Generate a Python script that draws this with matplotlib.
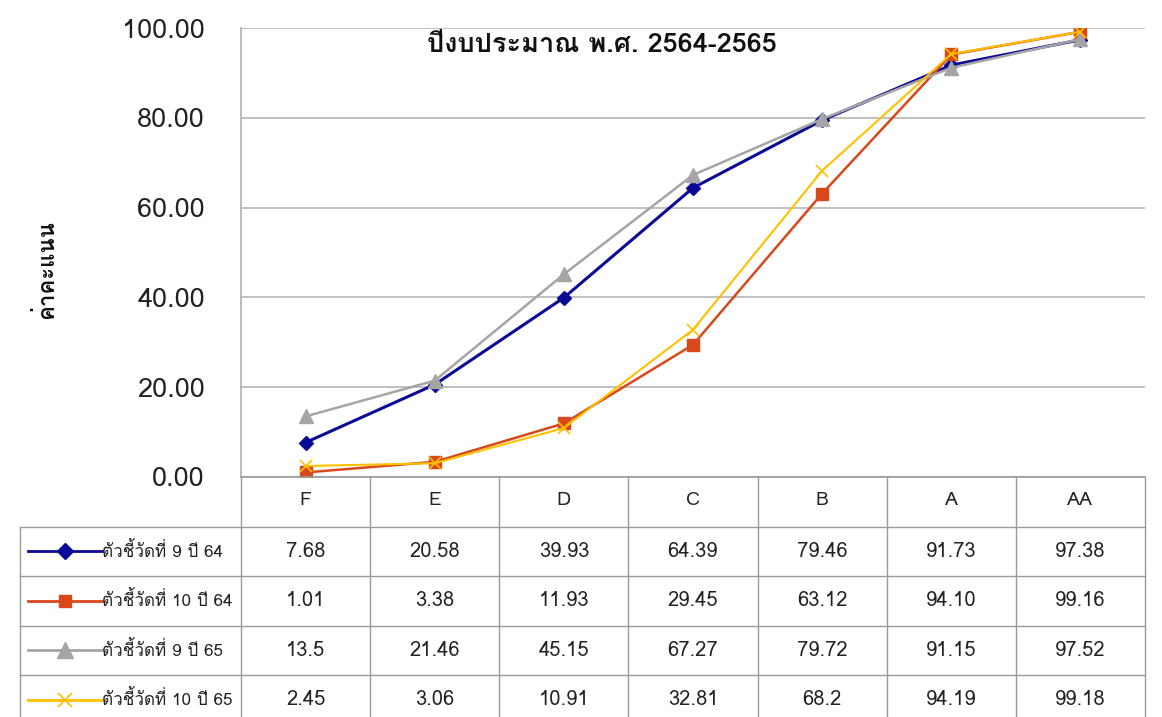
import numpy as np
import matplotlib
matplotlib.use('Agg')
from matplotlib import pyplot as plt
from matplotlib import font_manager


def find_thai_font():
    try:
        from fontTools.ttLib import TTFont
    except Exception:
        return None
    for f in sorted(font_manager.findSystemFonts()):
        try:
            cmap = TTFont(f, fontNumber=0, lazy=True).getBestCmap()
        except Exception:
            continue
        if cmap and 0x0E01 in cmap:
            return font_manager.FontProperties(fname=f).get_name()
    return None


thai = find_thai_font()
fams = [thai, 'DejaVu Sans'] if thai else ['DejaVu Sans']
plt.rcParams['font.family'] = fams

categories = ['F', 'E', 'D', 'C', 'B', 'A', 'AA']
series_names = ['ตัวชี้วัดที่ 9 ปี 64', 'ตัวชี้วัดที่ 10 ปี 64',
                'ตัวชี้วัดที่ 9 ปี 65', 'ตัวชี้วัดที่ 10 ปี 65']
ind9_64 = ['7.68', '20.58', '39.93', '64.39', '79.46', '91.73', '97.38']
ind10_64 = ['1.01', '3.38', '11.93', '29.45', '63.12', '94.10', '99.16']
ind9_65 = ['13.5', '21.46', '45.15', '67.27', '79.72', '91.15', '97.52']
ind10_65 = ['2.45', '3.06', '10.91', '32.81', '68.2', '94.19', '99.18']
yticks = [0, 20, 40, 60, 80, 100]
title = 'ปีงบประมาณ พ.ศ. 2564-2565'
ylabel = 'ค่าคะแนน'

rows = [ind9_64, ind10_64, ind9_65, ind10_65]
colors = ['#0a0a96', '#d8481b', '#a5a5a5', '#ffc000']
markers = ['D', 's', '^', 'x']
msizes = [7, 8, 10, 9]
lws = [2.2, 1.8, 1.8, 1.5]

W, H = 1162, 717
fig = plt.figure(figsize=(W / 100, H / 100), dpi=100)

left, right, top, bottom = 241, 1145, 28, 477
ax = fig.add_axes([left / W, 1 - bottom / H, (right - left) / W, (bottom - top) / H])
ax.set_xlim(-0.5, len(categories) - 0.5)
ax.set_ylim(0, 100)
ax.set_yticks(yticks)
ax.set_yticklabels(['%.2f' % v for v in yticks], fontsize=19.5, color='#222222')
ax.tick_params(axis='y', length=0, pad=26)
ax.set_xticks([])
for s in ['top', 'right', 'bottom']:
    ax.spines[s].set_visible(False)
ax.spines['left'].set_color('#b0b0b0')
ax.spines['left'].set_linewidth(1.2)
ax.yaxis.grid(True, color='#b5b5b5', linewidth=1.2)
ax.set_axisbelow(True)

x = np.arange(len(categories))
for vals, c, m, ms, lw in zip(rows, colors, markers, msizes, lws):
    y = np.array([float(v) for v in vals])
    ax.plot(x, y, color=c, lw=lw, marker=m, markersize=ms,
            markeredgewidth=1.2 if m == 'x' else 1, zorder=3)

fig.text(602 / W, 1 - 45 / H, title, fontsize=19.5, fontweight='bold',
         ha='center', va='center', color='#111111')
fig.text(45 / W, 1 - 270 / H, ylabel, fontsize=16, fontweight='bold',
         rotation=90, ha='center', va='center', color='#111111')

# data table underneath
tx0, row_h = 20, 49.5
col_w = (right - left) / len(categories)
tab = fig.add_axes([0, 0, 1, 1])
tab.set_xlim(0, W)
tab.set_ylim(H, 0)
tab.axis('off')
gc = '#9a9a9a'
ybot = bottom + row_h * (len(rows) + 1)
tab.plot([left, right], [bottom, bottom], color=gc, lw=1.2)
for i in range(len(categories) + 1):
    xx = left + i * col_w
    tab.plot([xx, xx], [bottom, ybot], color=gc, lw=1.0)
tab.plot([tx0, tx0], [bottom + row_h, ybot], color=gc, lw=1.0)
for r in range(1, len(rows) + 2):
    yy = bottom + r * row_h
    tab.plot([tx0, right], [yy, yy], color=gc, lw=1.0)
for i, cat in enumerate(categories):
    tab.text(left + (i + 0.5) * col_w, bottom + row_h / 2 - 2, cat, fontsize=14,
             ha='center', va='center', color='#222222')
for r, (vals, name, c, m, ms) in enumerate(zip(rows, series_names, colors, markers, msizes)):
    yc = bottom + (r + 1.5) * row_h
    tab.plot([28, 102], [yc, yc], color=c, lw=2.0)
    tab.plot([65], [yc], marker=m, color=c, markersize=ms + 1,
             markeredgewidth=1.2 if m == 'x' else 1)
    tab.text(102, yc, name, fontsize=12.3, ha='left', va='center', color='#222222')
    for i, v in enumerate(vals):
        tab.text(left + (i + 0.5) * col_w, yc, v, fontsize=14.5,
                 ha='center', va='center', color='#222222')

fig.savefig('out.png', dpi=100)
